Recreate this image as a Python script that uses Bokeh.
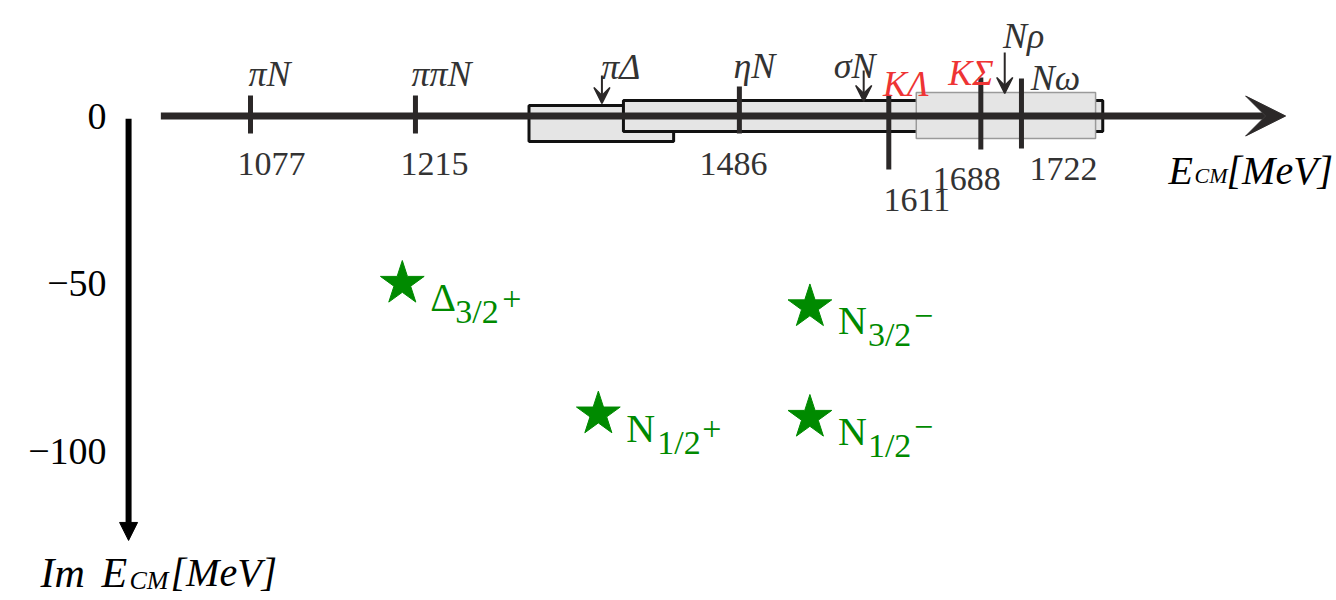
from bokeh.plotting import figure
from bokeh.models import ColumnDataSource, Arrow, VeeHead, NormalHead, Range1d
from bokeh.embed import file_html
from bokeh.resources import INLINE
from bokeh.core.properties import value

# ---------------- data (MeV) ----------------
thr_names = ["πN", "ππN", "πΔ", "ηN", "σN", "KΛ", "KΣ", "Nρ", "Nω"]
thr_values = [1077, 1215, 1371, 1486, 1590, 1611, 1688, 1708, 1722]
thr_marks = ["tick", "tick", "arrow", "tick", "arrow", "tick", "tick", "arrow", "tick"]
thr_red = [False, False, False, False, False, True, True, False, False]

band_names = ["πΔ", "σN", "Nρ"]
band_lo = [1310, 1389, 1634]
band_hi = [1431, 1790, 1784]
band_top = [3.1, 4.6, 7.0]
band_bottom = [-7.6, -4.6, -6.7]

pole_names = ["Δ", "N", "N", "N"]
pole_sub = ["3/2", "1/2", "3/2", "1/2"]
pole_sup = ["+", "+", "−", "−"]
pole_re = [1204, 1368, 1545, 1545]
pole_im = [-50, -89, -57, -90]

im_ticks = [0, -50, -100]
im_tick_labels = ["0", "−50", "−100"]

# ---------------- layout / style ----------------
W, H = 1336, 600
PX = 1 / 1.1953      # MeV per screen pixel (horizontal)
PY = 1 / 3.35        # MeV per screen pixel (vertical)
X0 = 1077 - 250 * PX
Y1 = 115.5 * PY
X1 = X0 + W * PX
Y0 = Y1 - H * PY

def px_x(img_x):
    return X0 + img_x * PX

def px_y(img_y):
    return Y1 - img_y * PY

E_AXIS = (1002, 1943)
IM_AXIS_X = 975
IM_AXIS = (-0.8, -126.7)

# threshold marks: upper / lower end in px above the real axis
mark_hi_px = [20.5, 20.5, 40.5, 29.5, 45.5, 20.5, 38.5, 63.5, 37.5]
mark_lo_px = [-17.5, -17.5, 12.5, -17.5, 14.5, -53.5, -33.5, 22.5, -32.5]
label_dx_px = [19, 26, 19, 15, -9, 17, -10, 19, 34]
label_up_px = [42.5, 42.5, 49.5, 50.5, 50.5, 32.5, 43.5, 80.5, 38.5]
num_dx_px = [21, 19, 0, -6, 0, 28, -14, 0, 42]
num_up_px = [-47.5, -47.5, 0, -47.5, 0, -83.5, -62.5, 0, -52.5]

band_line_color = ["#111111", "#111111", "#9a9a9a"]
band_line_width = [3, 3, 1.5]

pole_main_dx = 28
pole_main_dy = -14
pole_sub_dx = [53, 59, 58, 58]
pole_sub_dy = -28
pole_sup_dx = [100, 104, 104, 104]
pole_sup_dy = [-15, -15, -9, -9]

DARK = "#2b2828"
LABEL = "#333333"
RED = "#ee3434"
GREEN = "#008a00"
BOX_FILL = "#e5e5e5"
SERIF = value("Liberation Serif")

p = figure(width=W, height=H, output_backend="svg", toolbar_location=None,
           x_range=Range1d(X0, X1), y_range=Range1d(Y0, Y1),
           x_axis_location=None, y_axis_location=None, min_border=0)
p.grid.visible = False
p.outline_line_color = None
p.background_fill_color = "white"
p.border_fill_color = "white"

# threshold bands
p.quad(left=band_lo, right=band_hi, top=band_top, bottom=band_bottom,
       fill_color=BOX_FILL, line_color=band_line_color, line_width=band_line_width)

# real axis
p.add_layout(Arrow(x_start=E_AXIS[0], y_start=0, x_end=E_AXIS[1], y_end=0,
                   line_width=7, line_color=DARK,
                   end=VeeHead(size=40, fill_color=DARK, line_color=DARK)))

# imaginary axis
p.add_layout(Arrow(x_start=IM_AXIS_X, y_start=IM_AXIS[0], x_end=IM_AXIS_X, y_end=IM_AXIS[1],
                   line_width=6, line_color="black",
                   end=NormalHead(size=18, fill_color="black", line_color="black")))

tick_idx = [i for i, m in enumerate(thr_marks) if m == "tick"]
arrow_idx = [i for i, m in enumerate(thr_marks) if m == "arrow"]

# ticks
p.segment(x0=[thr_values[i] for i in tick_idx], x1=[thr_values[i] for i in tick_idx],
          y0=[mark_lo_px[i] * PY for i in tick_idx], y1=[mark_hi_px[i] * PY for i in tick_idx],
          line_width=5, line_color=DARK)

# arrows for thresholds inside bands
asrc = ColumnDataSource(dict(x=[thr_values[i] for i in arrow_idx],
                             y0=[mark_hi_px[i] * PY for i in arrow_idx],
                             y1=[mark_lo_px[i] * PY for i in arrow_idx]))
p.add_layout(Arrow(source=asrc, x_start="x", y_start="y0", x_end="x", y_end="y1",
                   line_width=2, line_color=DARK,
                   end=VeeHead(size=16, fill_color=DARK, line_color=DARK, line_width=1.5)))

# channel labels
p.text(x=[v + d * PX for v, d in zip(thr_values, label_dx_px)],
       y=[u * PY for u in label_up_px], text=thr_names,
       text_color=[RED if r else LABEL for r in thr_red],
       text_font=SERIF, text_font_style="italic", text_font_size="36px",
       text_align="center", text_baseline="alphabetic")

# threshold values
p.text(x=[thr_values[i] + num_dx_px[i] * PX for i in tick_idx],
       y=[num_up_px[i] * PY for i in tick_idx],
       text=[str(thr_values[i]) for i in tick_idx],
       text_color=LABEL, text_font=SERIF, text_font_size="34px",
       text_align="center", text_baseline="alphabetic")

# poles
p.scatter(pole_re, pole_im, marker="star", size=46, fill_color=GREEN, line_color=GREEN)
p.text(x=[r + pole_main_dx * PX for r in pole_re], y=[i + pole_main_dy * PY for i in pole_im],
       text=pole_names, text_color=GREEN, text_font=SERIF, text_font_size="40px",
       text_align="left", text_baseline="alphabetic")
p.text(x=[r + d * PX for r, d in zip(pole_re, pole_sub_dx)], y=[i + pole_sub_dy * PY for i in pole_im],
       text=pole_sub, text_color=GREEN, text_font=SERIF, text_font_size="34px",
       text_align="left", text_baseline="alphabetic")
p.text(x=[r + d * PX for r, d in zip(pole_re, pole_sup_dx)],
       y=[i + d * PY for i, d in zip(pole_im, pole_sup_dy)],
       text=pole_sup, text_color=GREEN, text_font=SERIF, text_font_size="34px",
       text_align="left", text_baseline="alphabetic")

# imaginary axis tick labels
p.text(x=[IM_AXIS_X - 22 * PX] * len(im_ticks), y=im_ticks, text=im_tick_labels,
       text_color="black", text_font=SERIF, text_font_size="38px",
       text_align="right", text_baseline="middle")

# axis titles
p.text(x=[px_x(1168)], y=[px_y(170)], text=["E"], text_color="black", text_font=SERIF,
       text_font_style="italic", text_font_size="40px", text_baseline="alphabetic")
p.text(x=[px_x(1194)], y=[px_y(175)], text=["CM"], text_color="black", text_font=SERIF,
       text_font_style="italic", text_font_size="22px", text_baseline="alphabetic")
p.text(x=[px_x(1226)], y=[px_y(170)], text=["[MeV]"], text_color="black", text_font=SERIF,
       text_font_style="italic", text_font_size="40px", text_baseline="alphabetic")

p.text(x=[px_x(40)], y=[px_y(572)], text=["Im"], text_color="black", text_font=SERIF,
       text_font_style="italic", text_font_size="42px", text_baseline="alphabetic")
p.text(x=[px_x(101)], y=[px_y(572)], text=["E"], text_color="black", text_font=SERIF,
       text_font_style="italic", text_font_size="42px", text_baseline="alphabetic")
p.text(x=[px_x(129)], y=[px_y(580)], text=["CM"], text_color="black", text_font=SERIF,
       text_font_style="italic", text_font_size="26px", text_baseline="alphabetic")
p.text(x=[px_x(170)], y=[px_y(572)], text=["[MeV]"], text_color="black", text_font=SERIF,
       text_font_style="italic", text_font_size="40px", text_baseline="alphabetic")

open("out.html", "w").write(file_html(p, INLINE))
